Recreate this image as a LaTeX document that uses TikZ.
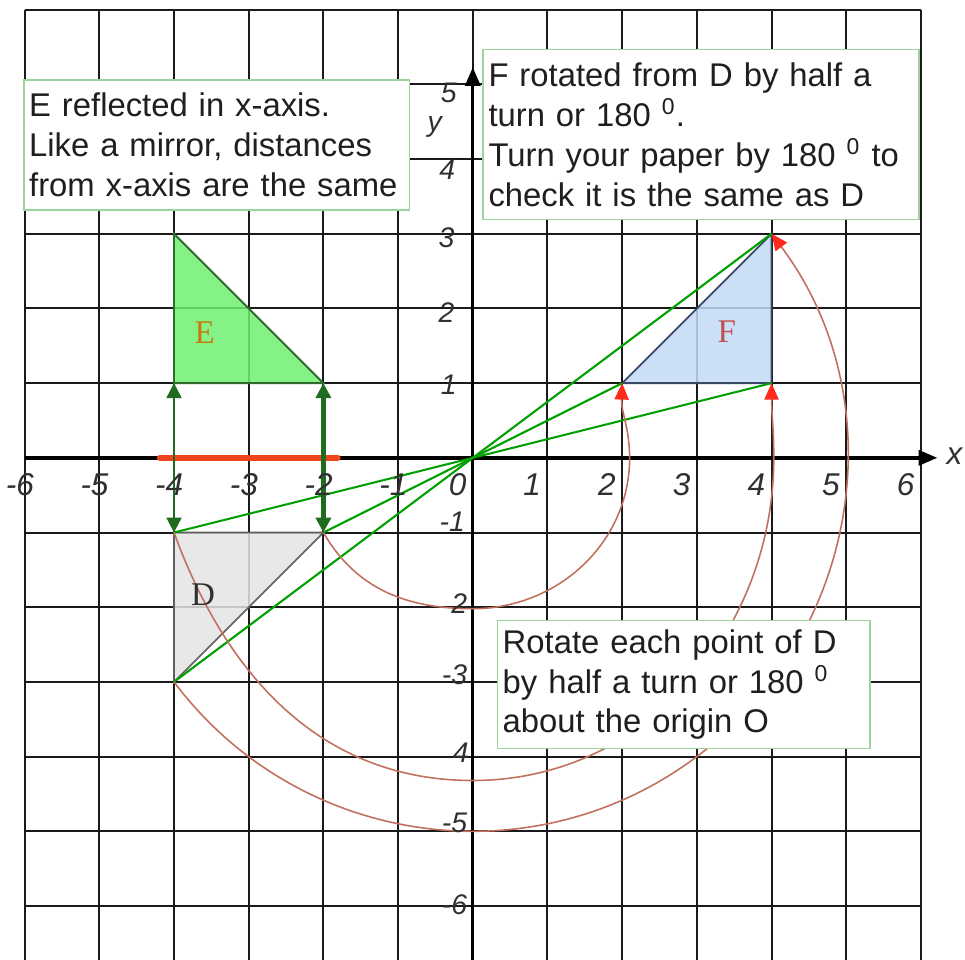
\documentclass[tikz,border=0pt]{standalone}
\usepackage{fontspec}
\setmainfont{Liberation Sans}
\newfontfamily\letterfont{Liberation Serif}
\usetikzlibrary{arrows.meta}

\definecolor{gridBlack}{HTML}{1A1A1A}
\definecolor{eFill}{HTML}{6EF06E}
\definecolor{eEdge}{HTML}{2F6A2F}
\definecolor{fFill}{HTML}{C2DAF4}
\definecolor{fEdge}{HTML}{3A4A66}
\definecolor{dFill}{HTML}{E4E4E4}
\definecolor{dEdge}{HTML}{606060}
\definecolor{rayGreen}{HTML}{00A000}
\definecolor{mirrorGreen}{HTML}{1F6B1F}
\definecolor{barRed}{HTML}{F0441A}
\definecolor{arcBrown}{HTML}{C0705C}
\definecolor{tipRed}{HTML}{FF2A1A}
\definecolor{boxGreen}{HTML}{9CD49C}
\definecolor{letterE}{HTML}{C87A10}
\definecolor{letterF}{HTML}{C05050}
\definecolor{numGray}{HTML}{303030}

\begin{document}
\begin{tikzpicture}[
  gridline/.style={draw=gridBlack, line width=0.75pt},
  axisline/.style={draw=black, line width=1.3pt, -{Triangle[length=2.5mm, width=2mm]}},
  rayline/.style={draw=rayGreen, line width=0.8pt},
  mirrorarrow/.style={draw=mirrorGreen, {Triangle[length=2mm, width=2mm]}-{Triangle[length=2mm, width=2mm]}},
  turnarc/.style={draw=arcBrown, line width=0.6pt, -{Triangle[length=2.2mm, width=1.9mm, color=tipRed]}},
  xnum/.style={anchor=east, inner sep=0pt, text=numGray, font=\fontsize{12}{14}\selectfont\itshape},
  ynum/.style={anchor=east, inner sep=0pt, text=numGray, font=\fontsize{10.8}{13}\selectfont\itshape},
  shapename/.style={inner sep=0pt, font=\fontsize{12.6}{14}\selectfont\letterfont},
  notebox/.style={draw=boxGreen, fill=white, line width=0.6pt, anchor=north west, align=left,
    inner xsep=0.07cm, inner ysep=0pt, text=black!88, font=\fontsize{12.5}{15.2}\selectfont}
]
\useasboundingbox (-6.33,-6.72) rectangle (6.59,6.13);

\coordinate (O) at (0,0);
\coordinate (D1) at (-4,-1);
\coordinate (D2) at (-2,-1);
\coordinate (D3) at (-4,-3);
\coordinate (E1) at (-4,1);
\coordinate (E2) at (-2,1);
\coordinate (E3) at (-4,3);
\coordinate (F1) at (4,1);
\coordinate (F2) at (2,1);
\coordinate (F3) at (4,3);
\coordinate (innerlow) at (0,-2.02);
\coordinate (innerright) at (2.1,0);
\coordinate (midlow) at (0,-4.32);
\coordinate (midright) at (4.03,0);

\draw[gridline] (-6,-6.72) grid (6,6);

\filldraw[fill=eFill, fill opacity=0.85, draw=eEdge, line width=0.7pt] (E1) -- (E3) -- (E2) -- cycle;
\filldraw[fill=fFill, fill opacity=0.85, draw=fEdge, line width=0.7pt] (F2) -- (F1) -- (F3) -- cycle;
\filldraw[fill=dFill, fill opacity=0.85, draw=dEdge, line width=0.6pt] (D1) -- (D2) -- (D3) -- cycle;

\draw[axisline] (-6,0) -- (6.22,0);
\draw[axisline] (0,-6.72) -- (0,5.23);

\draw[draw=barRed, line width=2.3pt, line cap=round] (-4.19,0) -- (-1.81,0);

\draw[rayline] (D1) -- (F1);
\draw[rayline] (D2) -- (F2);
\draw[rayline] (D3) -- (F3);

\draw[mirrorarrow, line width=0.8pt] (D1) -- (E1);
\draw[mirrorarrow, line width=1.6pt] (D2) -- (E2);

\draw[turnarc] (D2) to[out=-60, in=180] (innerlow) to[out=0, in=-90] (innerright) to[out=90, in=-92] (F2);
\draw[turnarc] (D1) to[out=-70, in=180] (midlow) to[out=0, in=-90] (midright) to[out=90, in=-90] (F1);
\draw[turnarc] (D3) arc[start angle=216.87, end angle=396.87, radius=5];

\foreach \xv in {-6,...,-1}
  \node[xnum] (xl\xv) at (\xv+0.13,-0.355) {\xv};
\foreach \xv in {0,...,6}
  \node[xnum] (xl\xv) at (\xv-0.08,-0.355) {\xv};
\foreach \lab/\xr/\yc [count=\k] in {5/-0.21/4.89, 4/-0.23/3.86, 3/-0.24/2.95, 2/-0.24/1.95,
    1/-0.21/0.98, -1/-0.1/-0.86, 2/-0.07/-1.95, -3/-0.07/-2.9, 4/-0.05/-3.95,
    -5/-0.07/-4.89, -6/-0.07/-5.98}
  \node[ynum] (yl\k) at (\xr,\yc) {\lab};
\node[xnum, anchor=center] (xname) at (6.45,0.02) {x};
\node[ynum, anchor=center] (yname) at (-0.51,4.43) {y};

\node[shapename, text=letterE] (labE) at (-3.59,1.67) {E};
\node[shapename, text=letterF] (labF) at (3.40,1.69) {F};
\node[shapename, text=numGray] (labD) at (-3.61,-1.83) {D};

\node[notebox, text width=5.02cm, minimum height=1.74cm] (reflectnote) at (-6.02,5.07)
  {E reflected in x-axis.\\Like a mirror, distances\\from x-axis are the same};
\node[notebox, text width=5.69cm, minimum height=2.28cm] (rotatednote) at (0.13,5.48)
  {F rotated from D by half a\\turn or 180 \textsuperscript{0}.\\Turn your paper by 180 \textsuperscript{0} to\\check it is the same as D};
\node[notebox, text width=4.85cm, minimum height=1.71cm] (rotatenote) at (0.32,-2.17)
  {Rotate each point of D\\by half a turn or 180 \textsuperscript{0}\\about the origin O};
\end{tikzpicture}
\end{document}
